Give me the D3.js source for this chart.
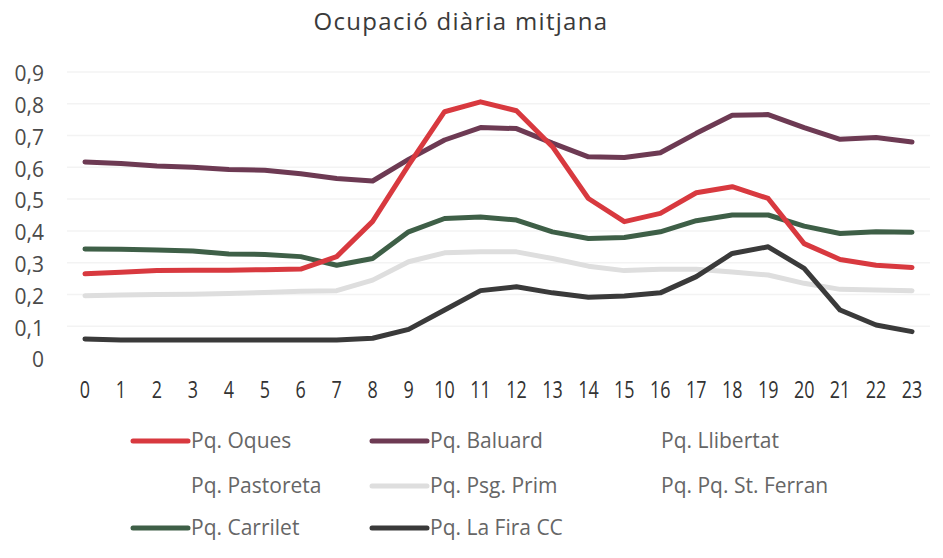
<!DOCTYPE html>
<html>
<head>
<meta charset="utf-8">
<script src="https://cdn.jsdelivr.net/npm/d3@7"></script>
<style>
  body { margin: 0; background: #fff; }
  text { font-family: "Open Sans", "Noto Sans", sans-serif; }
</style>
</head>
<body>
<div id="chart"></div>
<script>
// hours on the x axis
var hours = d3.range(0, 24);

// average daily occupancy
var oques    = [0.265, 0.27, 0.275, 0.276, 0.276, 0.278, 0.28, 0.319, 0.43, 0.607, 0.775, 0.806, 0.778, 0.665, 0.502, 0.429, 0.455, 0.52, 0.539, 0.502, 0.36, 0.31, 0.292, 0.285];
var baluard  = [0.617, 0.612, 0.604, 0.60, 0.593, 0.591, 0.58, 0.565, 0.557, 0.625, 0.686, 0.725, 0.722, 0.676, 0.633, 0.631, 0.646, 0.707, 0.764, 0.766, 0.725, 0.688, 0.694, 0.68];
var psgPrim  = [0.196, 0.198, 0.2, 0.201, 0.203, 0.206, 0.21, 0.212, 0.245, 0.303, 0.331, 0.334, 0.334, 0.313, 0.289, 0.275, 0.279, 0.279, 0.271, 0.261, 0.235, 0.216, 0.214, 0.212];
var carrilet = [0.343, 0.342, 0.34, 0.337, 0.327, 0.326, 0.319, 0.292, 0.313, 0.397, 0.439, 0.444, 0.434, 0.397, 0.376, 0.379, 0.397, 0.432, 0.45, 0.45, 0.415, 0.392, 0.397, 0.396];
var laFira   = [0.06, 0.057, 0.057, 0.057, 0.057, 0.057, 0.057, 0.057, 0.062, 0.09, 0.151, 0.212, 0.224, 0.205, 0.191, 0.195, 0.205, 0.256, 0.329, 0.35, 0.282, 0.151, 0.104, 0.083];

// legend order (three of the parkings have no visible line)
var legendNames  = ["Pq. Oques", "Pq. Baluard", "Pq. Llibertat", "Pq. Pastoreta", "Pq. Psg. Prim", "Pq. Pq. St. Ferran", "Pq. Carrilet", "Pq. La Fira CC"];
var legendColors = ["#d8393f", "#6d3a53", null, null, "#dedede", null, "#3e5f47", "#3a3a3a"];

var yTicks = [0, 0.1, 0.2, 0.3, 0.4, 0.5, 0.6, 0.7, 0.8, 0.9];

var series = [
  {name: "Pq. Psg. Prim", values: psgPrim, color: "#dedede"},
  {name: "Pq. La Fira CC", values: laFira, color: "#3a3a3a"},
  {name: "Pq. Carrilet", values: carrilet, color: "#3e5f47"},
  {name: "Pq. Baluard", values: baluard, color: "#6d3a53"},
  {name: "Pq. Oques", values: oques, color: "#d8393f"}
];

var W = 943, H = 558;
var margin = {top: 72, right: 13, bottom: 200, left: 67},
    width = W - margin.left - margin.right,
    height = H - margin.top - margin.bottom;

var svg = d3.select("#chart").append("svg")
    .attr("width", W)
    .attr("height", H);

svg.append("text")
    .attr("x", 461)
    .attr("y", 30)
    .attr("text-anchor", "middle")
    .attr("font-size", 24)
    .attr("letter-spacing", 1.3)
    .attr("fill", "#3a3a3a")
    .text("Ocupació diària mitjana");

var g = svg.append("g")
    .attr("transform", "translate(" + margin.left + "," + margin.top + ")");

var xScale = d3.scaleBand()
    .domain(hours)
    .range([0, width]);

var yScale = d3.scaleLinear()
    .domain([0, 0.9])
    .range([height, 0]);

var fmt = function(d) { return d === 0 ? "0" : d3.format(".1f")(d).replace(".", ","); };

// faint gridlines
g.selectAll(".grid")
    .data(yTicks.slice(1))
    .enter().append("line")
    .attr("x1", 0)
    .attr("x2", width)
    .attr("y1", function(d) { return yScale(d); })
    .attr("y2", function(d) { return yScale(d); })
    .attr("stroke", "#f3f3f3")
    .attr("stroke-width", 1.5);

// y axis
var yAxis = g.append("g")
    .call(d3.axisLeft(yScale).tickValues(yTicks).tickFormat(fmt).tickSize(0).tickPadding(23));
yAxis.select(".domain").remove();
yAxis.selectAll("text")
    .attr("font-size", 21)
    .attr("dy", "0.42em")
    .attr("fill", "#4a4a4a")
    .style("font-family", "'Open Sans', sans-serif");

// x axis, narrow tall digits like the original
var xAxis = g.append("g")
    .attr("transform", "translate(0," + height + ")")
    .call(d3.axisBottom(xScale).tickSize(0).tickPadding(24));
xAxis.select(".domain").remove();
xAxis.selectAll("text")
    .attr("font-size", 23)
    .attr("transform", "scale(0.78,1)")
    .attr("fill", "#333")
    .style("font-family", "'Open Sans', sans-serif");

var line = d3.line()
    .x(function(d, i) { return xScale(hours[i]) + xScale.bandwidth() / 2; })
    .y(function(d) { return yScale(d); });

g.selectAll(".line")
    .data(series)
    .enter().append("path")
    .attr("class", "line")
    .attr("d", function(d) { return line(d.values); })
    .attr("fill", "none")
    .attr("stroke", function(d) { return d.color; })
    .attr("stroke-width", 5)
    .attr("stroke-linejoin", "round")
    .attr("stroke-linecap", "round");

// legend, 3 columns
var colX = [130, 369, 600], rowY = [441, 486, 528];
var legend = svg.selectAll(".legend")
    .data(legendNames)
    .enter().append("g")
    .attr("class", "legend")
    .attr("transform", function(d, i) { return "translate(" + colX[i % 3] + "," + rowY[Math.floor(i / 3)] + ")"; });

legend.append("line")
    .attr("x1", 3).attr("x2", 58)
    .attr("y1", 0).attr("y2", 0)
    .attr("stroke", function(d, i) { return legendColors[i] || "none"; })
    .attr("stroke-width", 5)
    .attr("stroke-linecap", "round");

legend.append("text")
    .attr("x", 61)
    .attr("y", 7)
    .attr("font-size", 21)
    .attr("fill", "#666")
    .text(function(d) { return d; });
</script>
</body>
</html>
